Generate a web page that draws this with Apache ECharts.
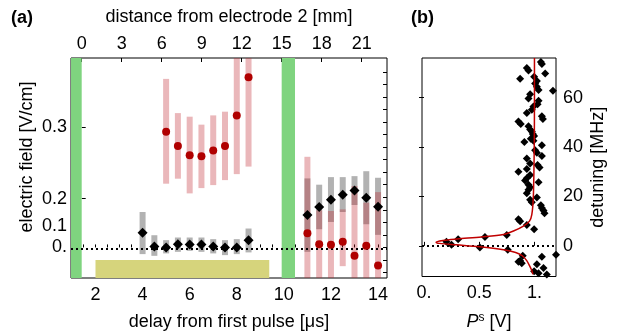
<!DOCTYPE html>
<html><head><meta charset="utf-8">
<script src="https://cdn.jsdelivr.net/npm/echarts@6/dist/echarts.min.js"></script>
<style>html,body{margin:0;padding:0;background:#fff}#c{width:628px;height:336px}</style>
</head><body><div id="c"></div>
<script>
// ---------- Panel (a) data ----------
const delayBlack = [4,4.5,5,5.5,6,6.5,7,7.5,8,8.5, 11,11.5,12,12.5,13,13.5,14];
const fieldBlack = [0.152,0.133,0.1316,0.1362,0.1358,0.1358,0.133,0.1316,0.1316,0.1418, 0.1771,0.1883,0.1986,0.2056,0.2116,0.2014,0.1888];
const fieldBlackLow = [0.1222,0.1198,0.1232,0.1254,0.1268,0.1254,0.1232,0.1208,0.1222,0.1246, 0.1254,0.1571,0.1673,0.1813,0.1911,0.1641,0.1492];
const fieldBlackHigh = [0.1813,0.1487,0.1418,0.1455,0.1455,0.1455,0.1432,0.1418,0.1432,0.1581, 0.2284,0.2196,0.2302,0.2302,0.2316,0.2385,0.2293];

const delayRed = [5,5.5,6,6.5,7,7.5,8,8.5, 11,11.5,12,12.5,13,13.5,14];
const fieldRed = [0.294,0.274,0.261,0.2595,0.2675,0.274,0.3168,0.3704, 0.1515,0.1362,0.1352,0.1394,0.1198,0.1338,0.1064];
const fieldRedLow = [0.221,0.228,0.2074,0.2148,0.219,0.226,0.2344,0.245, 0.05,0.05,0.05,0.1053,0.05,0.05,0.05];
const fieldRedHigh = [0.368,0.320,0.315,0.3038,0.3168,0.322,0.45,0.45, 0.2587,0.1837,0.1827,0.185,0.2176,0.1944,0.2092];

const electrodeStart = [-0.8, 15];   // mm
const electrodeEnd = [0, 16];        // mm
const pulseStart = 2, pulseEnd = 9.38, pulseTop = 0.1138;  // µs, field units
const zeroField = 0.1316;

const fieldTickValues = [0.1316, 0.1617, 0.2, 0.3];
const fieldTickLabels = ['0.', '0.1', '0.2', '0.3'];
const delayTickLabels = [2,4,6,8,10,12,14];
const distTickLabels = [0,3,6,9,12,15,18,21];

// ---------- Panel (b) data ----------
const psValues = [1.058,1.067,0.931,0.946,1.097,0.997,0.870,1.022,1.006,1.022,1.037,1.167,0.961,0.946,1.037,1.028,0.991,0.976,0.931,1.067,1.076,0.855,0.876,0.946,0.961,0.976,0.985,0.997,0.967,0.991,0.909,1.067,1.006,1.022,1.067,0.931,0.961,1.028,1.046,0.931,0.855,0.961,0.931,0.915,1.037,0.946,0.961,0.946,0.931,1.022,0.961,0.976,1.058,1.067,1.082,1.091,0.855,0.870,0.931,0.997,0.749,0.552,0.309,0.203,0.249,0.506,0.758,0.894,1.067,1.195,0.870,0.885,1.022,1.082,0.997,1.037,1.112,0.855];
const detValues = [74.4,73.6,72.0,70.9,69.7,68.4,67.6,66.7,65.7,64.4,63.1,62.7,61.3,59.6,58.7,57.3,56.4,55.1,53.7,52.4,51.3,50.3,49.3,48.4,47.1,46.3,45.3,44.4,43.3,42.5,42.0,40.7,38.7,37.7,36.4,35.3,33.3,32.7,31.7,31.1,30.0,28.7,27.3,26.4,25.7,24.7,23.7,22.7,21.3,19.6,18.7,17.6,16.4,15.3,14.3,13.2,10.8,10.0,8.4,6.7,4.4,3.6,2.7,1.7,0.4,-0.7,-1.6,-4.0,-4.4,-3.6,-6.0,-7.0,-7.4,-9.0,-10.3,-11.1,-11.6,-6.4];
const fitDet = [76,60,40,20,12.6,10,8,6,4.6,3.6,2.8,2.2,1.5,1.0,0.4,-0.4,-1.6,-2.7,-4,-6,-8,-10,-11.5];
const fitPs  = [1.0,1.0,0.998,0.99,0.976,0.955,0.9,0.81,0.72,0.52,0.3,0.17,0.11,0.14,0.295,0.506,0.72,0.83,0.89,0.93,0.955,0.976,0.985];
const psTickValues = [0, 0.5, 1];
const psTickLabels = ['0.', '0.5', '1.'];
const detTickLabels = [0,20,40,60];

// ---------- helpers ----------
const FONT = 'Liberation Sans';
function clipRect(r, params){
  const cs = params.coordSys;
  return echarts.graphic.clipRectByRect(r, {x: cs.x, y: cs.y, width: cs.width, height: cs.height});
}
function errBar(color, w){
  return function(params, api){
    const x = api.value(0), lo = api.value(1), hi = api.value(2);
    const p1 = api.coord([x, hi]), p2 = api.coord([x, lo]);
    const r = clipRect({x: p1[0]-w/2, y: p1[1], width: w, height: p2[1]-p1[1]}, params);
    return r ? {type:'rect', shape:r, style:{fill:color}} : null;
  };
}
const range = (a,b,s)=>{const r=[];for(let v=a;v<=b+1e-9;v+=s)r.push(+v.toFixed(4));return r;};

const blackBars = delayBlack.map((t,i)=>[t, fieldBlackLow[i], fieldBlackHigh[i]]);
const redBars = delayRed.map((t,i)=>[t, fieldRedLow[i], fieldRedHigh[i]]);
const electrodes = electrodeStart.map((s,i)=>[s, electrodeEnd[i]]);

const tickLabelStyle = {color:'#000', fontFamily:FONT, fontSize:18};
const nameStyle = {color:'#000', fontFamily:FONT, fontSize:18};

const option = {
  animation:false,
  title:[
    {text:'(a)', left:6, top:4, textStyle:{fontFamily:FONT, fontSize:18, fontWeight:'bold', color:'#000'}},
    {text:'(b)', left:406, top:4, textStyle:{fontFamily:FONT, fontSize:18, fontWeight:'bold', color:'#000'}}
  ],
  grid:[
    {left:71, top:58, width:316, height:221, show:true, borderColor:'#000', borderWidth:1, backgroundColor:'transparent'},
    {left:422, top:58, width:134, height:221, show:true, borderColor:'#000', borderWidth:1, backgroundColor:'transparent'}
  ],
  xAxis:[
    {type:'value', gridIndex:0, position:'bottom', min:0.96, max:14.38,
     axisLine:{show:false}, splitLine:{show:false},
     axisTick:{inside:true, length:3, customValues: range(1,14,0.5), lineStyle:{color:'#000'}},
     axisLabel:Object.assign({customValues: delayTickLabels, margin:8}, tickLabelStyle),
     name:'delay from first pulse [\u03bcs]', nameLocation:'middle', nameGap:35, nameTextStyle:nameStyle},
    {type:'value', gridIndex:0, position:'top', min:-0.802, max:22.90,
     axisLine:{show:false}, splitLine:{show:false},
     axisTick:{inside:true, length:4, customValues: distTickLabels, lineStyle:{color:'#000'}},
     axisLabel:Object.assign({customValues: distTickLabels, margin:5}, tickLabelStyle),
     name:'distance from electrode 2 [mm]', nameLocation:'middle', nameGap:32, nameTextStyle:nameStyle},
    {type:'value', gridIndex:1, position:'bottom', min:-0.018, max:1.195,
     axisLine:{show:false}, splitLine:{show:false},
     axisTick:{inside:true, length:4, customValues: psTickValues, lineStyle:{color:'#000'}},
     axisLabel:Object.assign({customValues: psTickValues, margin:8,
        formatter:v=>{const i=psTickValues.findIndex(x=>Math.abs(x-v)<1e-6);return i>=0?psTickLabels[i]:'';}}, tickLabelStyle),
     name:'{i|P}{s|s} [V]', nameLocation:'middle', nameGap:35,
     nameTextStyle:Object.assign({rich:{i:{fontStyle:'italic', fontFamily:FONT, fontSize:18, color:'#000'},
                                        s:{fontFamily:FONT, fontSize:12, color:'#000', padding:[0,0,9,0]}}}, nameStyle)}
  ],
  yAxis:[
    {type:'value', gridIndex:0, position:'left', min:0.0887, max:0.3973,
     axisLine:{show:false}, splitLine:{show:false},
     axisTick:{inside:true, length:4, customValues:[0.2,0.3], lineStyle:{color:'#000'}},
     axisLabel:Object.assign({customValues: fieldTickValues, margin:4,
        formatter:v=>{const i=fieldTickValues.findIndex(x=>Math.abs(x-v)<1e-6);return i>=0?fieldTickLabels[i]:'';}}, tickLabelStyle),
     name:'electric field [V/cm]', nameLocation:'middle', nameGap:35, nameRotate:90, nameMoveOverlap:false,
     nameTextStyle:Object.assign({padding:[0,0,0,22]}, nameStyle)},
    {type:'value', gridIndex:0, position:'right', min:-2.437, max:15.10,
     axisLine:{show:false}, splitLine:{show:false}, axisLabel:{show:false},
     axisTick:{inside:true, length:4, customValues: range(-2,14,1), lineStyle:{color:'#000'}}},
    {type:'value', gridIndex:1, position:'right', min:-12.4, max:76,
     axisLine:{show:false}, splitLine:{show:false},
     axisTick:{inside:true, length:5, customValues: detTickLabels, lineStyle:{color:'#000'}},
     axisLabel:Object.assign({customValues: detTickLabels, margin:7}, tickLabelStyle),
     name:'detuning [MHz]', nameLocation:'middle', nameGap:33, nameRotate:90, nameMoveOverlap:false,
     nameTextStyle:nameStyle}
  ],
  series:[
    {type:'custom', xAxisIndex:1, yAxisIndex:0, z:1, silent:true, data:electrodes,
     encode:{x:[0,1]},
     renderItem:function(params, api){
       const a = api.coord([api.value(0), 0.3]), b = api.coord([api.value(1), 0.3]);
       const cs = params.coordSys;
       const r = clipRect({x:a[0], y:cs.y, width:b[0]-a[0], height:cs.height}, params);
       return r ? {type:'rect', shape:r, style:{fill:'#7fd47f'}} : null;
     }},
    {type:'custom', xAxisIndex:0, yAxisIndex:0, z:1, silent:true, data:[[pulseStart, pulseEnd, pulseTop]],
     encode:{x:[0,1], y:2},
     renderItem:function(params, api){
       const a = api.coord([api.value(0), api.value(2)]);
       const b = api.coord([api.value(1), 0.0887]);
       const r = clipRect({x:a[0], y:a[1], width:b[0]-a[0], height:b[1]-a[1]}, params);
       return r ? {type:'rect', shape:r, style:{fill:'#d6d47c'}} : null;
     }},
    {type:'custom', xAxisIndex:0, yAxisIndex:0, z:2, silent:true, data:blackBars, encode:{x:0, y:[1,2]},
     renderItem: errBar('#b2b2b2', 6)},
    {type:'custom', xAxisIndex:0, yAxisIndex:0, z:3, silent:true, data:redBars, encode:{x:0, y:[1,2]},
     renderItem: errBar('rgba(190,30,40,0.32)', 6)},
    {type:'line', xAxisIndex:0, yAxisIndex:0, z:4, data:[], silent:true,
     markLine:{silent:true, symbol:['none','none'], label:{show:false},
       lineStyle:{color:'#000', type:[2,3], width:2}, data:[{yAxis:zeroField}]}},
    {type:'scatter', xAxisIndex:0, yAxisIndex:0, z:5, symbol:'diamond', symbolSize:10,
     itemStyle:{color:'#000', opacity:1}, data: delayBlack.map((t,i)=>[t, fieldBlack[i]])},
    {type:'scatter', xAxisIndex:0, yAxisIndex:0, z:6, symbol:'circle', symbolSize:8,
     itemStyle:{color:'#b00000', opacity:1}, data: delayRed.map((t,i)=>[t, fieldRed[i]])},
    // panel b
    {type:'line', xAxisIndex:2, yAxisIndex:2, z:4, data:[], silent:true,
     markLine:{silent:true, symbol:['none','none'], label:{show:false},
       lineStyle:{color:'#000', type:[2,3], width:2}, data:[{yAxis:0}]}},
    {type:'scatter', xAxisIndex:2, yAxisIndex:2, z:5, symbol:'diamond', symbolSize:8,
     itemStyle:{color:'#000', opacity:1}, data: psValues.map((p,i)=>[p, detValues[i]])},
    {type:'line', xAxisIndex:2, yAxisIndex:2, z:6, symbol:'none', smooth:0.3, clip:true,
     lineStyle:{color:'#c00000', width:1.5}, data: fitPs.map((p,i)=>[p, fitDet[i]])}
  ]
};
const chart = echarts.init(document.getElementById('c'));
chart.setOption(option);
</script></body></html>
